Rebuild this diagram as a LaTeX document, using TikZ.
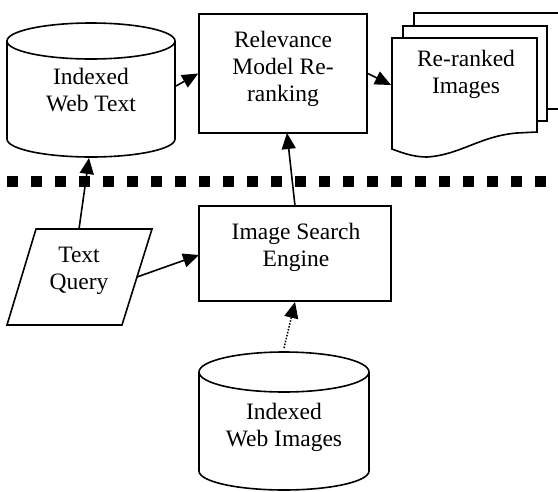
\documentclass[tikz,border=0pt]{standalone}
\usepackage{fontspec}
\setmainfont{Liberation Serif}
\usetikzlibrary{arrows.meta}
\begin{document}
\begin{tikzpicture}[x=1pt,y=-1pt,
  shapeline/.style={line width=1.6pt, line join=miter},
  boxshape/.style={shapeline, draw, rectangle, inner sep=0pt},
  lbl/.style={align=center, inner sep=0pt, font=\fontsize{23.5}{27}\selectfont},
  arr/.style={line width=1.6pt, -{Triangle[length=16pt,width=14pt]}},
  dotarr/.style={line width=1.5pt, dash pattern=on 1.5pt off 1.5pt, -{Triangle[length=16pt,width=14pt]}},
  sepline/.style={line width=11pt, dash pattern=on 11pt off 13pt}]
\useasboundingbox (0,0) rectangle (558,491);
\fill[white] (0,0) rectangle (558,491);
\clip (0,0) rectangle (558,491);

% Indexed Web Text cylinder
\draw[shapeline] (7,41) -- (7,139) arc[start angle=180, end angle=0, x radius=84, y radius=18] -- (175,41);
\draw[shapeline] (91,41) ellipse[x radius=84, y radius=18];
\node[lbl] (webtext) at (91,93) {\strut Indexed\\\strut Web Text};

% Relevance Model Re-ranking box
\node[boxshape, minimum width=168pt, minimum height=119pt] (rel) at (283,73.5) {};
\node[lbl] (reltext) at (283,68.6) {\strut Relevance\\\strut Model Re-\\\strut ranking};

% Re-ranked Images multi-document
\draw[shapeline] (414,26) -- (414,13) -- (570,13);
\draw[shapeline] (547,109) -- (570,109);
\draw[shapeline] (403,38) -- (403,26) -- (547,26) -- (547,121) -- (537,121);
\draw[shapeline, fill=white] (392,149) -- (392,38) -- (537,38) -- (537,132) -- (517,133)
   .. controls (480,136) and (460,155) .. (427,157)
   .. controls (415,157) and (405,154) .. (392,149) -- cycle;
\node[lbl] (docs) at (466,74.6) {\strut Re-ranked\\\strut Images};

% separator
\draw[sepline] (7,181.5) -- (558,181.5);

% Text Query parallelogram
\draw[shapeline] (36,229) -- (152,229) -- (122,325) -- (7,325) -- cycle;
\node[lbl] (query) at (79,270.6) {\strut Text\\\strut Query};

% Image Search Engine box
\node[boxshape, minimum width=192pt, minimum height=95pt] (ise) at (295,253.5) {};
\node[lbl] (isetext) at (296,248) {\strut Image Search\\\strut Engine};

% Indexed Web Images cylinder
\draw[shapeline] (199,372) -- (199,471) arc[start angle=180, end angle=0, x radius=85, y radius=19] -- (369,372);
\draw[shapeline] (284,372) ellipse[x radius=85, y radius=20];
\node[lbl] (webimg) at (284,428) {\strut Indexed\\\strut Web Images};

% connector end points
\coordinate (c1s) at (176,86);
\coordinate (c2e) at (391,85);
\coordinate (c3s) at (79,229);
\coordinate (c3e) at (89,158);
\coordinate (c4s) at (137,277);
\coordinate (c4e) at (199,255);
\coordinate (c5s) at (295,206);
\coordinate (c5e) at (287,133);
\coordinate (c6s) at (284,348);
\coordinate (c6e) at (295,302);

\draw[arr] (c1s) -- (rel.west);
\draw[arr] (rel.east) -- (c2e);
\draw[arr] (c3s) -- (c3e);
\draw[arr] (c4s) -- (c4e);
\draw[arr] (c5s) -- (c5e);
\draw[dotarr] (c6s) -- (c6e);
\end{tikzpicture}
\end{document}
